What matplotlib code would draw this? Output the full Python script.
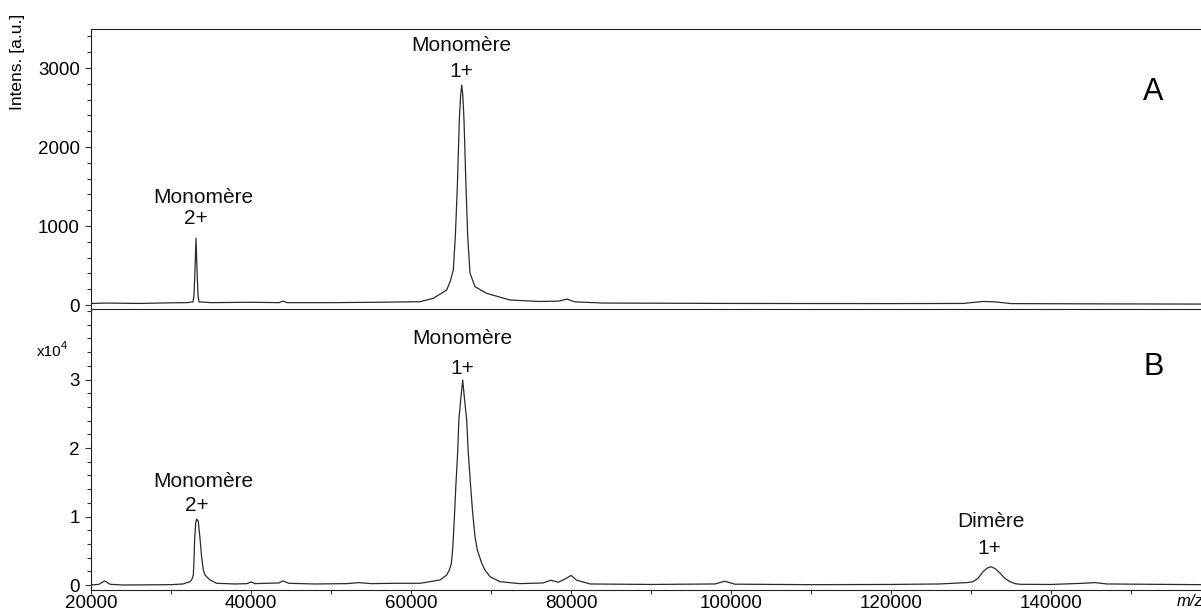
import matplotlib
matplotlib.use("Agg")
import matplotlib.pyplot as plt
from matplotlib.ticker import MultipleLocator, FixedLocator, FixedFormatter

plt.rcParams["font.family"] = ["Liberation Sans", "DejaVu Sans"]

# Spectrum A (intensity in a.u.)
top_mz = [20000, 22000, 26000, 30000, 32000, 32750, 32875, 33000, 33125, 33250,
          33375, 33500, 35000, 40000, 43500, 44000, 44500, 50000, 56000, 61125,
          62790, 64460, 64900, 65290, 65540, 65790, 66040, 66200, 66340, 66480,
          66625, 66875, 67090, 67375, 68000, 69460, 72375, 76125, 78500, 79500,
          80500, 84000, 100000, 120000, 129000, 131500, 133000, 135000, 145000,
          158750]
top_int = [20, 25, 20, 28, 30, 40, 120, 450, 845, 450,
           120, 40, 30, 35, 30, 50, 30, 30, 35, 42,
           85, 190, 300, 443, 865, 1498, 2342, 2650, 2785, 2650,
           2342, 1498, 865, 405, 232, 148, 63, 45, 50, 75,
           40, 25, 20, 18, 20, 45, 40, 18, 15,
           12]

# Spectrum B (intensity in a.u.)
bot_mz = [20000, 21000, 21700, 22400, 24000, 30000, 31500, 32400, 32600, 32790,
          32870, 32950, 33080, 33210, 33410, 33625, 33840, 34040, 34250, 34875,
          35710, 38000, 39500, 40000, 40500, 43500, 44000, 44700, 48000, 52000,
          53500, 55000, 58000, 61125, 63625, 64460, 64790, 65050, 65200, 65300,
          65450, 65600, 65830, 65980, 66250, 66460, 66660, 66960, 67160, 67460,
          67710, 68000, 68290, 68840, 69250, 69875, 71125, 73625, 76500, 77500,
          78400, 79300, 80000, 80700, 82400, 90000, 98000, 99200, 100500, 110000,
          120000, 126000, 128625, 129500, 130250, 130900, 131500, 132000, 132500, 133000,
          133625, 134200, 134875, 135500, 136125, 140000, 144000, 145500, 147000, 158750]
bot_int = [0, 100, 600, 100, 0, 50, 150, 500, 800, 1460,
           3500, 6500, 9000, 9640, 9300, 6800, 3900, 2190, 1460, 730,
           250, 150, 200, 450, 200, 300, 600, 250, 150, 200,
           350, 200, 250, 250, 730, 1460, 2190, 3170, 5110, 7050,
           10500, 14350, 19270, 24100, 27500, 29930, 27500, 24100, 19270, 14350,
           10500, 7050, 5110, 3170, 2190, 1210, 480, 200, 300, 700,
           400, 900, 1400, 700, 150, 80, 150, 550, 120, 50,
           80, 150, 300, 350, 480, 1000, 1940, 2450, 2670, 2400,
           1750, 1000, 480, 200, 100, 80, 250, 350, 150, 50]

x_ticks = [20000, 40000, 60000, 80000, 100000, 120000, 140000]
top_yticks = [0, 1000, 2000, 3000]
bot_yticks = [0, 10000, 20000, 30000]
bot_ylabels = ["0", "1", "2", "3"]

line_c = "#2a2a2a"
fig = plt.figure(figsize=(12.01, 6.10), dpi=100)
W, H = 1201, 610
left = 91 / W
ax_b = fig.add_axes([left, 1 - 590 / H, 1 - left, (590 - 308.5) / H])
ax_a = fig.add_axes([left, 1 - 308.5 / H, 1 - left, (308.5 - 29) / H], sharex=ax_b)
ax_a.patch.set_visible(False)

ax_a.plot(top_mz, top_int, color=line_c, lw=0.9)
ax_b.plot(bot_mz, bot_int, color=line_c, lw=0.9)

ax_a.set_xlim(20000, 158750)
ax_a.set_ylim(-44, 3494)
ax_b.set_ylim(-730, 40370)

for ax in (ax_a, ax_b):
    ax.spines["right"].set_visible(False)
    for s in ax.spines.values():
        s.set_color("#222222")
    ax.tick_params(axis="both", which="both", direction="out", color="#333333",
                   labelsize=13.5, width=0.8)
    ax.tick_params(axis="both", which="major", length=4)
    ax.tick_params(axis="both", which="minor", length=3)
    ax.tick_params(axis="y", which="major", pad=4)
ax_b.spines["top"].set_visible(False)
ax_b.tick_params(axis="x", which="both", pad=0.5, length=3)

ax_a.yaxis.set_major_locator(FixedLocator(top_yticks))
ax_a.yaxis.set_minor_locator(MultipleLocator(200))
ax_a.tick_params(axis="x", which="both", bottom=False, labelbottom=False)

ax_b.yaxis.set_major_locator(FixedLocator(bot_yticks))
ax_b.yaxis.set_major_formatter(FixedFormatter(bot_ylabels))
ax_b.yaxis.set_minor_locator(MultipleLocator(2000))
ax_b.xaxis.set_major_locator(FixedLocator(x_ticks))
ax_b.xaxis.set_minor_locator(MultipleLocator(10000))

# y label sits above the tick labels, near the top left corner
fig.text(18 / W, 1 - 62 / H, "Intens. [a.u.]", fontsize=12.5, rotation=90,
         ha="center", va="center")

lab = dict(ha="center", va="center", fontsize=15, color="#111111")
ax_a.text(34000, 1367, "Monomère", **lab)
ax_a.text(33125, 1100, "2+", **lab)
ax_a.text(66340, 3290, "Monomère", **lab)
ax_a.text(66340, 2950, "1+", **lab)
ax_b.text(34000, 15180, "Monomère", **lab)
ax_b.text(33210, 11680, "2+", **lab)
ax_b.text(66460, 36060, "Monomère", **lab)
ax_b.text(66460, 31680, "1+", **lab)
ax_b.text(132500, 9200, "Dimère", **lab)
ax_b.text(132300, 5260, "1+", **lab)

ax_a.text(0.957, 0.775, "A", transform=ax_a.transAxes, ha="center", va="center",
          fontsize=22)
ax_b.text(0.957, 0.792, "B", transform=ax_b.transAxes, ha="center", va="center",
          fontsize=22)

fig.text(37 / W, 1 - 352 / H, "x10", fontsize=11, ha="left", va="center")
fig.text(61 / W, 1 - 346 / H, "4", fontsize=8, ha="left", va="center")
fig.text(1190 / W, 1 - 601 / H, "m/z", fontsize=12, style="italic",
         ha="center", va="center")

fig.savefig("out.png", dpi=100)
